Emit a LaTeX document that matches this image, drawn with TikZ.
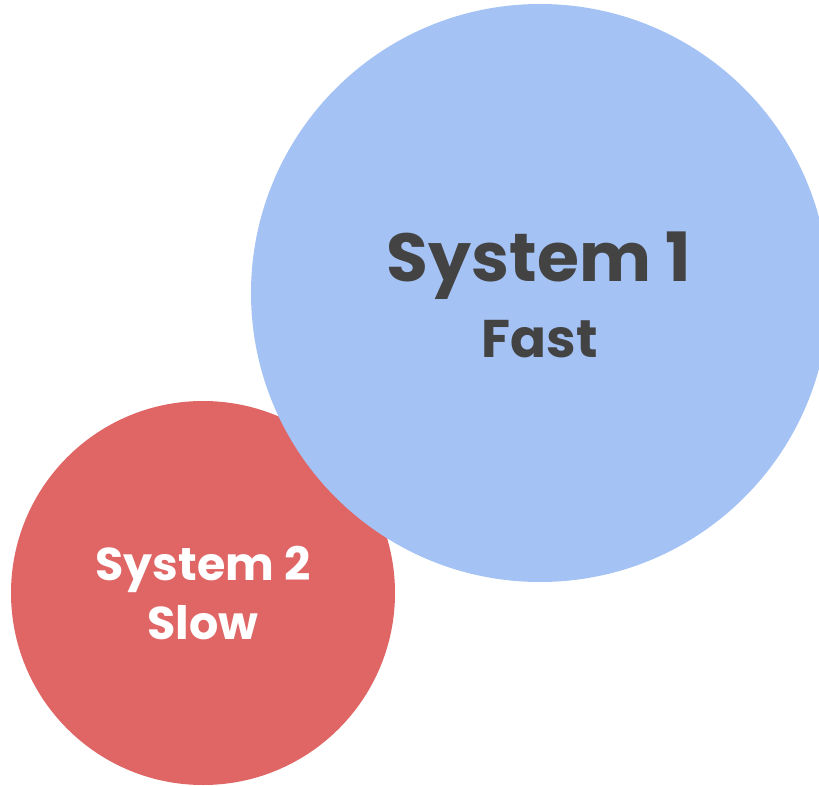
\documentclass[tikz,border=0pt]{standalone}
\usepackage{fontspec}
\setmainfont{Poppins}[BoldFont={* Bold}]
\definecolor{blueC}{HTML}{A4C2F4}
\definecolor{redC}{HTML}{E06666}
\definecolor{darkT}{HTML}{434343}
\begin{document}
\begin{tikzpicture}[x=1pt,y=-1pt,
  lbl/.style={font=\bfseries, inner sep=0pt, anchor=base}]
\useasboundingbox (0,0) rectangle (819,786);
\clip (0,0) rectangle (819,786);
\fill[redC] (203,593) circle[radius=192];
\fill[blueC] (540,293) circle[radius=289];
\node[lbl, text=darkT, font=\bfseries\fontsize{68}{74}\selectfont] (s1) at (539,282) {System 1};
\node[lbl, text=darkT, font=\bfseries\fontsize{53}{58}\selectfont] (f1) at (540,357) {Fast};
\node[lbl, text=white, font=\bfseries\fontsize{46}{50}\selectfont] (s2) at (203,580) {System 2};
\node[lbl, text=white, font=\bfseries\fontsize{46}{50}\selectfont] (f2) at (203,639) {Slow};
\end{tikzpicture}
\end{document}
